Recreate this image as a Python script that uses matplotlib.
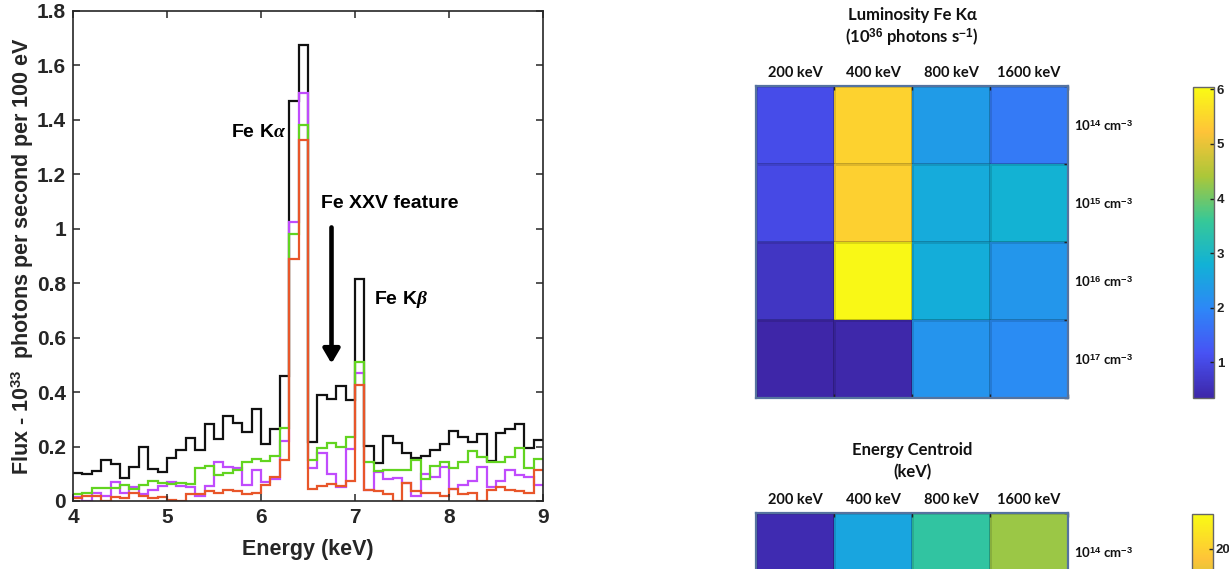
import numpy as np
import matplotlib
matplotlib.use("Agg")
import matplotlib.pyplot as plt
from matplotlib.colors import LinearSegmentedColormap
from matplotlib.patches import FancyArrowPatch

# ---------------- spectrum data (flux per 100 eV bin, 4-9 keV) ----------------
energy_edges = np.round(np.linspace(4.0, 9.0, 51), 2)

flux_black = [0.104, 0.099, 0.112, 0.152, 0.136, 0.085, 0.126, 0.198, 0.118, 0.106,
              0.159, 0.189, 0.231, 0.189, 0.284, 0.226, 0.311, 0.287, 0.255, 0.337,
              0.208, 0.264, 0.461, 1.469, 1.676, 0.217, 0.390, 0.374, 0.424, 0.370,
              0.816, 0.202, 0.141, 0.239, 0.213, 0.177, 0.159, 0.164, 0.188, 0.209,
              0.258, 0.235, 0.215, 0.246, 0.147, 0.250, 0.263, 0.284, 0.194, 0.225]

flux_purple = [0.015, 0.000, 0.030, 0.020, 0.068, 0.030, 0.050, 0.025, 0.040, 0.055,
               0.070, 0.055, 0.050, 0.020, 0.055, 0.145, 0.125, 0.120, 0.060, 0.115,
               0.070, 0.080, 0.220, 1.025, 1.500, 0.120, 0.175, 0.100, 0.050, 0.190,
               0.470, 0.040, 0.105, 0.080, 0.083, 0.065, 0.020, 0.100, 0.090, 0.125,
               0.045, 0.060, 0.075, 0.125, 0.050, 0.075, 0.115, 0.095, 0.090, 0.060]

flux_green = [0.025, 0.030, 0.047, 0.047, 0.047, 0.057, 0.045, 0.058, 0.072, 0.066,
              0.064, 0.066, 0.061, 0.120, 0.130, 0.095, 0.103, 0.115, 0.145, 0.155,
              0.147, 0.165, 0.270, 0.980, 1.380, 0.150, 0.195, 0.212, 0.200, 0.235,
              0.510, 0.145, 0.110, 0.115, 0.115, 0.115, 0.150, 0.080, 0.130, 0.145,
              0.120, 0.145, 0.185, 0.160, 0.145, 0.145, 0.160, 0.195, 0.120, 0.155]

flux_orange = [0.010, 0.020, 0.020, 0.000, 0.015, 0.010, 0.030, 0.020, 0.010, 0.015,
               0.005, 0.000, 0.025, 0.025, 0.035, 0.030, 0.040, 0.035, 0.025, 0.028,
               0.060, 0.090, 0.150, 0.890, 1.325, 0.045, 0.055, 0.062, 0.055, 0.075,
               0.425, 0.040, 0.035, 0.025, 0.000, 0.065, 0.035, 0.030, 0.030, 0.020,
               0.045, 0.025, 0.030, 0.000, 0.040, 0.050, 0.040, 0.035, 0.030, 0.115]

x_ticks = [4, 5, 6, 7, 8, 9]
y_ticks = [0, 0.2, 0.4, 0.6, 0.8, 1.0, 1.2, 1.4, 1.6, 1.8]

# ---------------- grid maps ----------------
beam_energies = ["200 keV", "400 keV", "800 keV", "1600 keV"]
densities = ["10$^{14}$ cm$^{-3}$", "10$^{15}$ cm$^{-3}$",
             "10$^{16}$ cm$^{-3}$", "10$^{17}$ cm$^{-3}$"]

# Fe K-alpha luminosity, 10^36 photons/s (rows: density, cols: beam energy)
luminosity = [[1.05, 5.42, 2.37, 1.78],
              [1.00, 5.40, 2.67, 2.82],
              [0.65, 5.98, 2.71, 2.28],
              [0.36, 0.38, 2.22, 2.08]]
lum_range = (0.35, 6.04)
lum_ticks = [1, 2, 3, 4, 5, 6]

# Energy centroid map, first density row
centroid = [[4.3, 11.0, 13.9, 16.5]]
centroid_range = (4.0, 22.0)
centroid_ticks = [20]

# parula-like colour scale
parula = LinearSegmentedColormap.from_list("parula", [
    (0.2422, 0.1504, 0.6603), (0.2810, 0.3228, 0.9579), (0.1786, 0.5289, 0.9682),
    (0.0689, 0.6948, 0.8394), (0.2161, 0.7843, 0.5923), (0.6720, 0.7793, 0.2227),
    (0.9970, 0.7659, 0.2199), (0.9769, 0.9839, 0.0805)], N=256)

plt.rcParams["font.family"] = ["Liberation Sans", "DejaVu Sans"]
plt.rcParams["font.weight"] = "bold"
plt.rcParams["axes.labelweight"] = "bold"
plt.rcParams["mathtext.fontset"] = "custom"
plt.rcParams["mathtext.rm"] = "Liberation Sans:bold"
plt.rcParams["mathtext.bf"] = "Liberation Sans:bold"
plt.rcParams["mathtext.it"] = "Liberation Serif:italic"

W, H = 1229, 569
fig = plt.figure(figsize=(W / 100, H / 100), dpi=100)


def box(l, t, r, b):
    return [l / W, 1 - b / H, (r - l) / W, (b - t) / H]


# ---------------- spectrum panel ----------------
ax = fig.add_axes(box(73, 11, 543, 501))
series = [(flux_black, "#111111"), (flux_purple, "#C04CFD"),
          (flux_green, "#62D420"), (flux_orange, "#E8562A")]
for vals, col in series:
    ax.stairs(vals, energy_edges, color=col, lw=1.6, baseline=None)

ax.set_xlim(4, 9)
ax.set_ylim(0, 1.8)
ax.set_xticks(x_ticks)
ax.set_xticklabels([f"{t:g}" for t in x_ticks])
ax.set_yticks(y_ticks)
ax.set_yticklabels([f"{t:g}" for t in y_ticks])
ax.tick_params(direction="in", top=True, right=True, length=5, width=1.1,
               labelsize=15, colors="#262626", pad=5)
for sp in ax.spines.values():
    sp.set_linewidth(1.2)
    sp.set_color("#262626")
ax.set_xlabel("Energy (keV)", fontsize=15.5, color="#262626", labelpad=9)
ax.set_ylabel("Flux - 10$^{33}$  photons per second per 100 eV", fontsize=15.5,
              color="#262626", labelpad=0.5)

ax.text(5.68, 1.355, r"Fe K$\alpha$", fontsize=14, va="center", ha="left")
ax.text(6.64, 1.093, "Fe XXV feature", fontsize=14, va="center", ha="left")
ax.text(7.20, 0.74, r"Fe K$\beta$", fontsize=14, va="center", ha="left")
ax.add_patch(FancyArrowPatch((6.75, 1.005), (6.75, 0.505),
                             arrowstyle="-|>,head_length=0.85,head_width=0.5",
                             mutation_scale=10, lw=3.3, color="black",
                             shrinkA=0, shrinkB=0))

# ---------------- grid maps ----------------
title_font = ["Lato", "DejaVu Sans"]
frame_col = "#55739F"


def grid_map(rect, data, vrange, nrows):
    a = fig.add_axes(rect)
    data = np.asarray(data)
    mesh = a.pcolormesh(np.arange(data.shape[1] + 1), np.arange(data.shape[0] + 1),
                        data, cmap=parula, vmin=vrange[0], vmax=vrange[1],
                        edgecolors=(0, 0, 0, 0.12), linewidth=0.8)
    a.set_xlim(0, 4)
    a.set_ylim(nrows, 0)
    a.xaxis.tick_top()
    a.set_xticks(np.arange(4) + 0.5)
    a.set_xticklabels(beam_energies, family=title_font, fontsize=10.5,
                      fontweight="bold", color="#111111")
    a.yaxis.tick_right()
    a.set_yticks(np.arange(data.shape[0]) + 0.5)
    a.set_yticklabels(densities[:data.shape[0]], family=title_font, fontsize=9.5,
                      fontweight="bold", color="#111111")
    a.tick_params(length=0, pad=4)
    a.set_xticks(np.arange(5), minor=True)
    a.set_yticks(np.arange(5), minor=True)
    a.tick_params(which="minor", direction="in", length=3, width=1,
                  color="#222222", top=True, bottom=True, right=True, left=False)
    for sp in a.spines.values():
        sp.set_color(frame_col)
        sp.set_linewidth(1.6)
    return a, mesh


def colorbar(rect, mesh, ticks):
    cax = fig.add_axes(rect)
    cb = fig.colorbar(mesh, cax=cax)
    cb.set_ticks(ticks)
    cb.set_ticklabels([str(t) for t in ticks])
    cax.tick_params(direction="in", length=3, width=1, labelsize=9.5,
                    colors="#222222", pad=2)
    cb.outline.set_edgecolor("#666666")
    cb.outline.set_linewidth(1)
    return cb


lum_ax, lum_mesh = grid_map(box(756, 86, 1068, 398), luminosity, lum_range, 4)
colorbar(box(1193, 87, 1214, 398), lum_mesh, lum_ticks)
fig.text(912 / W, 1 - 15 / H, "Luminosity Fe Kα", family=title_font, fontsize=12,
         fontweight="bold", ha="center", va="center", color="#111111")
fig.text(912 / W, 1 - 38 / H, "(10$^{36}$ photons s$^{-1}$)", family=title_font,
         fontsize=12, fontweight="bold", ha="center", va="center", color="#111111")

cen_ax, cen_mesh = grid_map(box(756, 513, 1068, 825), centroid, centroid_range, 4)
colorbar(box(1192, 514, 1213, 825), cen_mesh, centroid_ticks)
fig.text(912 / W, 1 - 450 / H, "Energy Centroid", family=title_font, fontsize=12,
         fontweight="bold", ha="center", va="center", color="#111111")
fig.text(912 / W, 1 - 472 / H, "(keV)", family=title_font, fontsize=12,
         fontweight="bold", ha="center", va="center", color="#111111")

fig.savefig("out.png", dpi=100)
